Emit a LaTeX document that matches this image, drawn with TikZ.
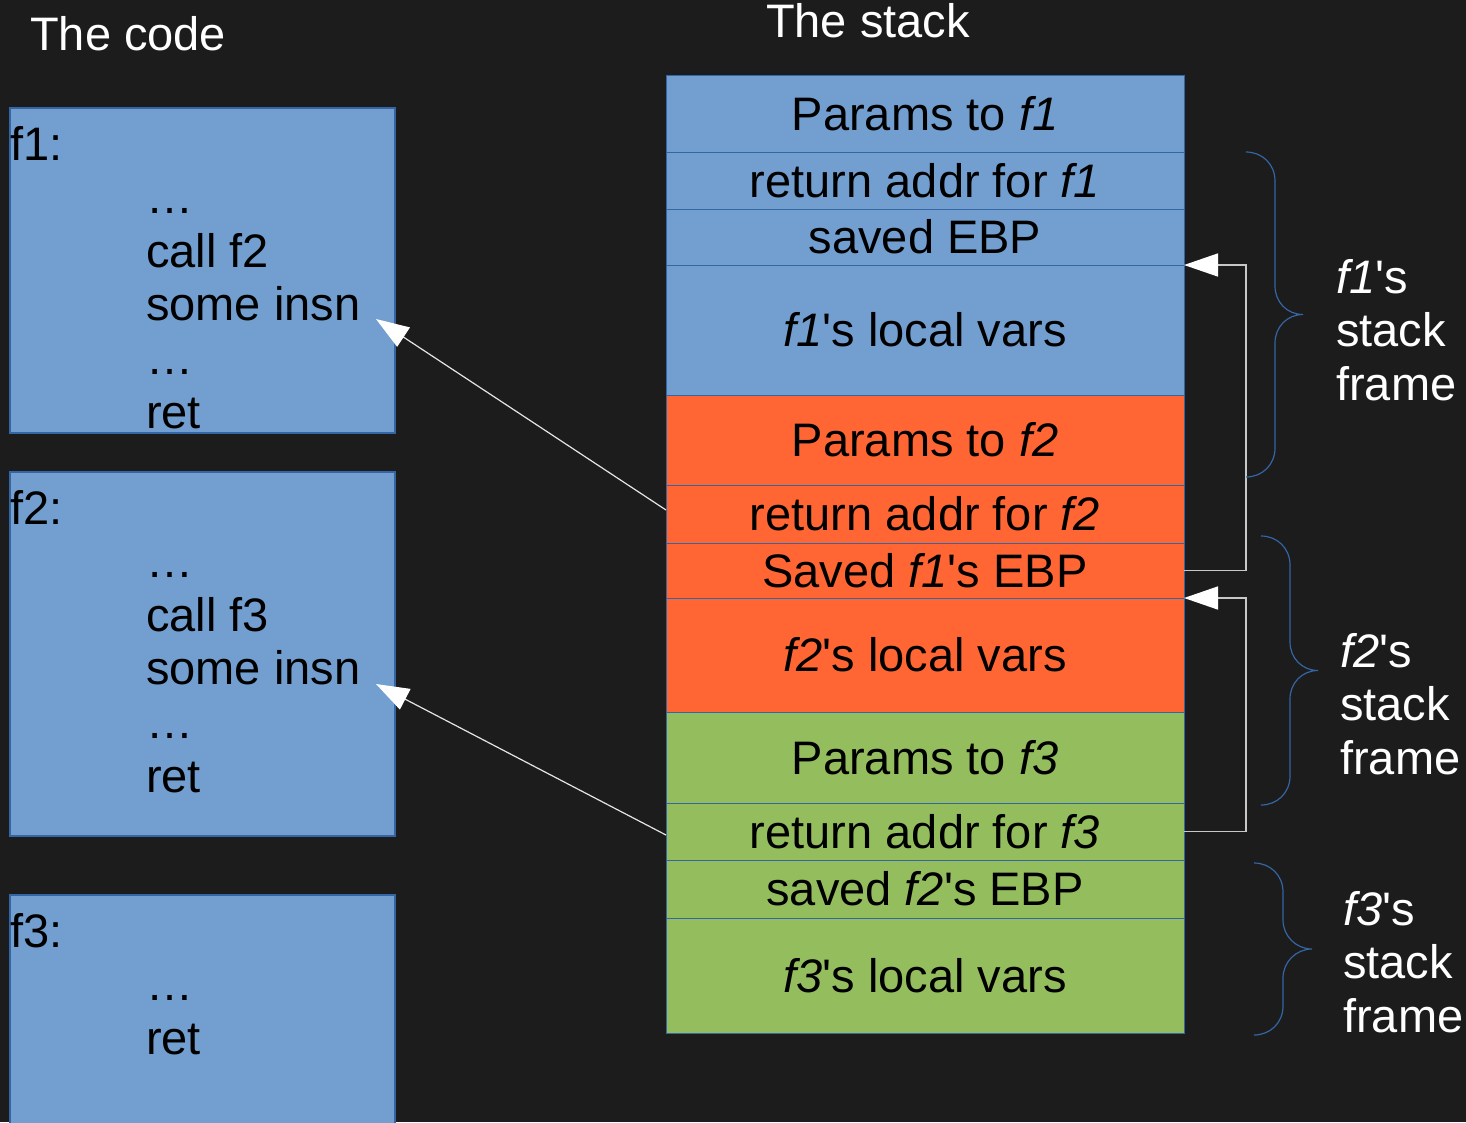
\documentclass[tikz,border=0pt]{standalone}
\usepackage{fontspec}
\setmainfont{Liberation Sans}[Ligatures=TeXOff]
\usetikzlibrary{arrows.meta, positioning}

\definecolor{bg}{HTML}{1C1C1C}
\definecolor{codeblue}{HTML}{729FCF}
\definecolor{edgeblue}{HTML}{3465A4}
\definecolor{f2orange}{HTML}{FF6633}
\definecolor{f3green}{HTML}{94BD5E}
\definecolor{linkgray}{HTML}{C8C8C8}

\begin{document}
\begin{tikzpicture}[x=1pt, y=-1pt,
      font=\fontsize{47}{53.6}\selectfont,
      codebox/.style={rectangle, draw=edgeblue, line width=1.2pt, fill=codeblue, minimum width=385pt, inner sep=0pt, outer sep=0pt},
      code/.style={anchor=base west, inner sep=0pt},
      slot/.style={rectangle, draw=edgeblue, line width=1pt, minimum width=518pt, inner sep=0pt, outer sep=0pt, text height=33.5pt, text depth=0pt},
      blueslot/.style={slot, fill=codeblue},
      orangeslot/.style={slot, fill=f2orange},
      greenslot/.style={slot, fill=f3green},
      retarrow/.style={draw=white!90!black, line width=1.2pt, -{Triangle[length=33pt, width=23pt, color=white]}},
      ebparrow/.style={draw=linkgray, line width=1.5pt, -{Triangle[length=34pt, width=23pt, color=white]}},
      framebrace/.style={draw=edgeblue, line width=1.2pt},
      framelabel/.style={anchor=base west, inner sep=0pt, text=white},
      title/.style={inner sep=0pt, text=white}]

      \useasboundingbox (0,0) rectangle (1466,1122);
      \fill[bg] (0,0) rectangle (1466,1122);

      % Titles
      \node[title, anchor=base west] (codetitle) at (30,50) {The code};
      \node[title, anchor=base] (stacktitle) at (868,37) {The stack};

      % The code
      \node[codebox, minimum height=325pt] (f1box) at (202.5,270.5) {};
      \node[codebox, minimum height=364pt] (f2box) at (202.5,654) {};
      \node[codebox, minimum height=240pt] (f3box) at (202.5,1015) {};

      \node[code] (f1code) at (10,160) {\begin{tabular}[t]{@{}p{136pt}@{}l@{}}
        f1: & \\ & … \\ & call f2 \\ & some insn \\ & … \\ & ret
      \end{tabular}};
      \node[code] (f2code) at (10,524) {\begin{tabular}[t]{@{}p{136pt}@{}l@{}}
        f2: & \\ & … \\ & call f3 \\ & some insn \\ & … \\ & ret
      \end{tabular}};
      \node[code] (f3code) at (10,947) {\begin{tabular}[t]{@{}p{136pt}@{}l@{}}
        f3: & \\ & … \\ & ret
      \end{tabular}};

      \coordinate (insn1) at (376,319);
      \coordinate (insn2) at (376,684);

      % The stack
      \node[blueslot, minimum height=77pt] (par1) at (925,113.5) {Params to \textit{f1}};
      \node[blueslot, minimum height=57pt, below=0pt of par1] (ret1) {return addr for \textit{f1}};
      \node[blueslot, minimum height=56pt, below=0pt of ret1] (ebp1) {saved EBP};
      \node[blueslot, minimum height=130pt, below=0pt of ebp1] (loc1) {\textit{f1}'s local vars};
      \node[orangeslot, minimum height=90pt, below=0pt of loc1] (par2) {Params to \textit{f2}};
      \node[orangeslot, minimum height=58pt, below=0pt of par2] (ret2) {return addr for \textit{f2}};
      \node[orangeslot, minimum height=55pt, below=0pt of ret2] (ebp2) {Saved \textit{f1}'s EBP};
      \node[orangeslot, minimum height=114pt, below=0pt of ebp2] (loc2) {\textit{f2}'s local vars};
      \node[greenslot, minimum height=91pt, below=0pt of loc2] (par3) {Params to \textit{f3}};
      \node[greenslot, minimum height=57pt, below=0pt of par3] (ret3) {return addr for \textit{f3}};
      \node[greenslot, minimum height=58pt, below=0pt of ret3] (ebp3) {saved \textit{f2}'s EBP};
      \node[greenslot, minimum height=115pt, below=0pt of ebp3] (loc3) {\textit{f3}'s local vars};

      % Return addresses
      \draw[retarrow] ([yshift=4pt]ret2.west) -- (insn1);
      \draw[retarrow] ([yshift=-3.5pt]ret3.west) -- (insn2);

      % Saved frame pointers
      \draw[ebparrow] (ebp2.east) -- ++(62,0) |- (loc1.north east);
      \draw[ebparrow] (ret3.east) -- ++(62,0) |- (loc2.north east);

      % Frames
      \draw[framebrace] (1246,152) .. controls (1262,152) and (1275,164) .. (1275,181) -- (1275,286)
        .. controls (1275,302) and (1287,314.5) .. (1303,314.5)
        .. controls (1287,314.5) and (1275,327) .. (1275,343) -- (1275,448)
        .. controls (1275,465) and (1262,477) .. (1246,477);
      \draw[framebrace] (1261,536) .. controls (1277,536) and (1290,548) .. (1290,565) -- (1290,642)
        .. controls (1290,658) and (1302,670.5) .. (1318,670.5)
        .. controls (1302,670.5) and (1290,683) .. (1290,699) -- (1290,776)
        .. controls (1290,793) and (1277,805) .. (1261,805);
      \draw[framebrace] (1254,863) .. controls (1270,863) and (1283,875) .. (1283,892) -- (1283,920)
        .. controls (1283,936) and (1296,949) .. (1312,949)
        .. controls (1296,949) and (1283,962) .. (1283,978) -- (1283,1006)
        .. controls (1283,1023) and (1270,1035) .. (1254,1035);

      \node[framelabel] (f1frame) at (1336,293) {\begin{tabular}[t]{@{}l@{}}\textit{f1}'s\\ stack\\ frame\end{tabular}};
      \node[framelabel] (f2frame) at (1340,667) {\begin{tabular}[t]{@{}l@{}}\textit{f2}'s\\ stack\\ frame\end{tabular}};
      \node[framelabel] (f3frame) at (1343,925) {\begin{tabular}[t]{@{}l@{}}\textit{f3}'s\\ stack\\ frame\end{tabular}};
\end{tikzpicture}
\end{document}
